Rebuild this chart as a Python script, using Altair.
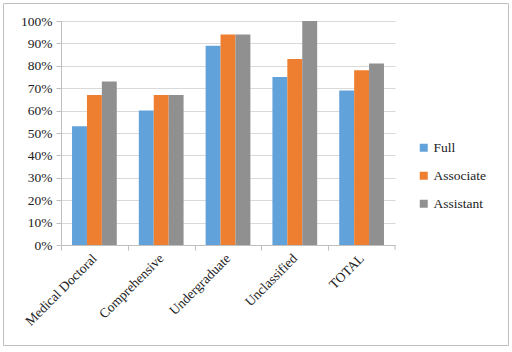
import altair as alt
import pandas as pd

categories = ["Medical Doctoral", "Comprehensive", "Undergraduate", "Unclassified", "TOTAL"]
series = ["Full", "Associate", "Assistant"]
full = [0.53, 0.60, 0.89, 0.75, 0.69]
associate = [0.67, 0.67, 0.94, 0.83, 0.78]
assistant = [0.73, 0.67, 0.94, 1.00, 0.81]
colors = ["#62A2DA", "#EF7F30", "#909090"]

rows = []
for i, c in enumerate(categories):
    for s, vals in zip(series, [full, associate, assistant]):
        rows.append({"cat": c, "series": s, "value": vals[i]})
df = pd.DataFrame(rows)

W, H = 334, 224
step = W / len(categories)
font = "'Liberation Serif', 'DejaVu Serif', serif"

bars = alt.Chart(df).mark_bar().encode(
    x=alt.X("cat:N", sort=categories, title=None,
            scale=alt.Scale(paddingInner=0.33, paddingOuter=0.165),
            axis=alt.Axis(labelAngle=-45, labelAlign="right", labelBaseline="middle",
                          tickOffset=-step / 2, labelOffset=step / 2,
                          labelFont=font, labelFontSize=13.5, labelColor="#222222",
                          domainColor="#BFBFBF", tickColor="#BFBFBF", tickSize=5,
                          labelPadding=6, grid=False)),
    xOffset=alt.XOffset("series:N", sort=series),
    y=alt.Y("value:Q", title=None,
            scale=alt.Scale(domain=[0, 1]),
            axis=alt.Axis(format=".0%", values=[i / 10 for i in range(11)],
                          labelFont=font, labelFontSize=13.5, labelColor="#222222",
                          domainColor="#BFBFBF", tickColor="#BFBFBF", tickSize=5,
                          gridColor="#D9D9D9", labelPadding=4)),
    color=alt.Color("series:N", sort=series,
                    scale=alt.Scale(domain=series, range=colors),
                    legend=alt.Legend(title=None, orient="none", legendX=356, legendY=120,
                                      symbolType="square", symbolSize=64,
                                      symbolStrokeWidth=0, rowPadding=13,
                                      labelFont=font, labelFontSize=13.5,
                                      labelColor="#222222", labelOffset=3)),
)

one = pd.DataFrame({"a": [0]})
end_tick = alt.Chart(one).mark_rule(color="#BFBFBF").encode(
    x=alt.value(W), y=alt.value(H), y2=alt.value(H + 5))
border = alt.Chart(one).mark_rect(fill=None, stroke="#BFBFBF", strokeWidth=1).encode(
    x=alt.value(-57.5), x2=alt.value(447.5), y=alt.value(-17.5), y2=alt.value(324.5))

chart = alt.layer(bars, end_tick, border).properties(
    width=W, height=H,
    autosize=alt.AutoSizeParams(type="none"),
    padding={"left": 61, "top": 21, "right": 117, "bottom": 107},
    background="white",
).configure_view(stroke=None)

chart.save("out.html", embed_options={"renderer": "svg", "actions": False})
